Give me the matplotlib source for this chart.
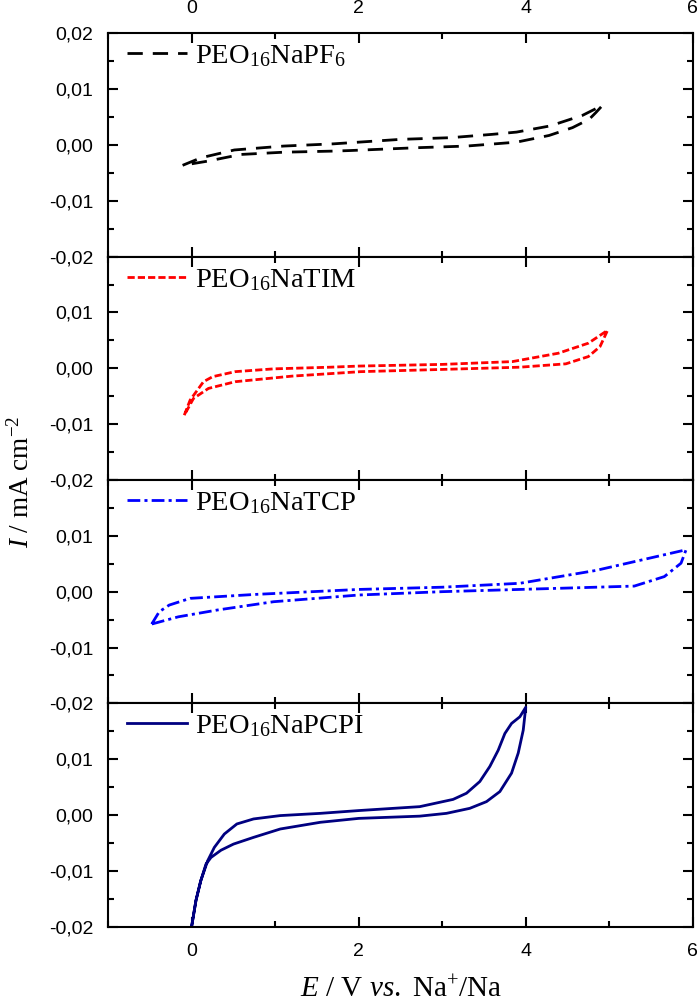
import matplotlib
matplotlib.use("Agg")
import matplotlib.pyplot as plt
from matplotlib.ticker import MultipleLocator, FixedLocator, FuncFormatter

plt.rcParams['mathtext.fontset'] = 'custom'
plt.rcParams['mathtext.rm'] = 'Liberation Serif'
plt.rcParams['mathtext.it'] = 'Liberation Serif:italic'
plt.rcParams['mathtext.bf'] = 'Liberation Serif:bold'

# ---------------- data (E in V, I in mA cm^-2) ----------------
pf6_x = [-0.11, 0.11, 0.51, 1.1, 1.7, 1.9, 2.5, 3.1, 3.6, 3.89, 4.29, 4.68, 4.92,
         4.84, 4.76, 4.56, 4.28, 3.89, 3.29, 2.69, 1.9, 1.7, 1.1, 0.59, 0.19, -0.11]
pf6_y = [-0.00365, -0.0023, -0.0009, -0.0002, 0.0002, 0.0004, 0.0010, 0.0013, 0.0019, 0.0023, 0.0034, 0.0053, 0.0071,
         0.0058, 0.0046, 0.0031, 0.0017, 0.0005, -0.0002, -0.0005, -0.0010, -0.0011, -0.0013, -0.0017, -0.0029, -0.00365]

tim_x = [-0.09, -0.02, 0.14, 0.25, 0.52, 0.98, 1.66, 2.0, 3.0, 3.84, 4.39, 4.75, 4.98,
         4.89, 4.75, 4.48, 3.93, 3.0, 2.02, 1.2, 0.52, 0.2, 0.02, -0.09]
tim_y = [-0.0084, -0.0057, -0.0024, -0.0015, -0.0006, -0.0001, 0.0002, 0.0004, 0.0007, 0.0012, 0.0027, 0.0045, 0.0068,
         0.0039, 0.0021, 0.0008, 0.0002, -0.0002, -0.0006, -0.0014, -0.0024, -0.0036, -0.0054, -0.0084]

tcp_x = [-0.48, -0.39, -0.27, -0.02, 0.75, 2.0, 3.0, 3.93, 4.84, 5.92,
         5.86, 5.66, 5.3, 4.39, 3.0, 2.0, 0.98, 0.3, -0.16, -0.48]
tcp_y = [-0.0058, -0.0036, -0.0024, -0.0012, -0.0005, 0.0004, 0.0008, 0.0015, 0.0038, 0.0075,
         0.0051, 0.0027, 0.0010, 0.0006, 0.0000, -0.0006, -0.0018, -0.0033, -0.0045, -0.0058]

pcpi_x = [0.0, 0.05, 0.107, 0.19, 0.27, 0.39, 0.54, 0.74, 1.06, 1.54, 2.0, 2.73, 3.13, 3.29, 3.45, 3.57,
          3.67, 3.75, 3.83, 3.93, 4.0,
          3.97, 3.91, 3.83, 3.69, 3.53, 3.33, 3.05, 2.73, 2.0, 1.54, 1.06, 0.74, 0.5, 0.35, 0.23, 0.17,
          0.107, 0.05, 0.0]
pcpi_y = [-0.0198, -0.0153, -0.0118, -0.0082, -0.0058, -0.0034, -0.0016, -0.0007, -0.0001, 0.0003, 0.0008,
          0.0015, 0.0028, 0.0039, 0.0060, 0.0087, 0.0116, 0.0146, 0.0164, 0.0176, 0.0193,
          0.0152, 0.0111, 0.0075, 0.0042, 0.0024, 0.0012, 0.0003, -0.0002, -0.0006, -0.0013, -0.0025,
          -0.0040, -0.0052, -0.0063, -0.0076, -0.0088, -0.0118, -0.0153, -0.0198]

labels = ["PEO$_{16}$NaPF$_6$", "PEO$_{16}$NaTIM", "PEO$_{16}$NaTCP", "PEO$_{16}$NaPCPI"]
colors = ["black", "#ff0000", "#0000ff", "#000080"]
series = [(pf6_x, pf6_y), (tim_x, tim_y), (tcp_x, tcp_y), (pcpi_x, pcpi_y)]
styles = [(0, (5.5, 3.6)), (0, (2.6, 1.1)), (0, (4.6, 1.5, 1.1, 1.5)), '-']

x_major = [0, 2, 4, 6]
y_major = [-0.02, -0.01, 0.0, 0.01, 0.02]

# ---------------- figure ----------------
fig = plt.figure(figsize=(7, 10.05), dpi=100)
axes = fig.subplots(4, 1, sharex=True)
fig.subplots_adjust(left=0.1547, right=0.9896, top=0.9669, bottom=0.0779, hspace=0)

tick_font = 'Liberation Sans'
serif = 'Liberation Serif'

def make_fmt(hide_top):
    def f(v, pos):
        if hide_top and abs(v - 0.02) < 1e-9:
            return ""
        s = f"{abs(v):.2f}".replace('.', ',')
        return ("-" + s) if v < -1e-9 else s
    return f

for i, ax in enumerate(axes):
    x, y = series[i]
    ax.plot(x, y, color=colors[i], linestyle=styles[i], lw=2.0, label=labels[i])
    ax.set_xlim(-1, 6)
    ax.set_ylim(-0.02, 0.02)
    ax.xaxis.set_major_locator(FixedLocator(x_major))
    ax.xaxis.set_minor_locator(MultipleLocator(1))
    ax.yaxis.set_major_locator(FixedLocator(y_major))
    ax.yaxis.set_minor_locator(MultipleLocator(0.005))
    ax.yaxis.set_major_formatter(FuncFormatter(make_fmt(i > 0)))
    ax.xaxis.set_major_formatter(FuncFormatter(lambda v, p: f"{v:g}"))
    ax.tick_params(which='both', direction='in', top=True, bottom=True, left=True, right=True, width=1.5)
    ax.tick_params(which='major', length=7)
    ax.tick_params(which='minor', length=4)
    ax.tick_params(axis='y', pad=11, labelsize=14)
    ax.tick_params(axis='x', pad=12, labelsize=14,
                   labeltop=(i == 0), labelbottom=(i == 3))
    for sp in ax.spines.values():
        sp.set_linewidth(1.5)
    ax.legend(loc='upper left', bbox_to_anchor=(0.032, 0.955), frameon=False,
              prop={'family': serif, 'size': 20.5}, handlelength=2.1,
              handletextpad=0.3, borderaxespad=0, borderpad=0)

for ax in axes:
    for lab in ax.get_xticklabels(which='both') + ax.get_yticklabels():
        lab.set_fontfamily(tick_font)

fig.text(0.03, 0.521, "$I$ / mA cm$^{-2}$", rotation=90, ha='center', va='center',
         fontsize=19.5, family=serif)
fig.text(0.573, 0.002, "$E$ / V $vs.$ Na$^{+}$/Na", ha='center', va='bottom',
         fontsize=21, family=serif)

fig.savefig("out.png", dpi=100)
